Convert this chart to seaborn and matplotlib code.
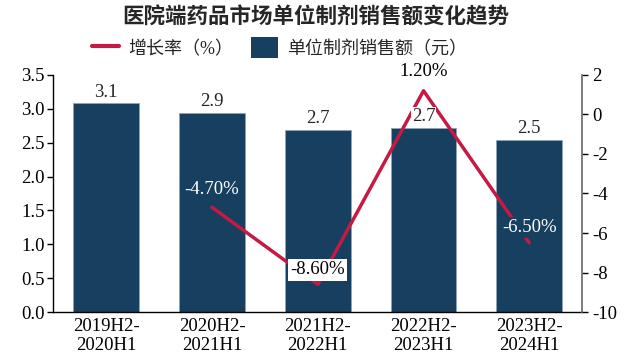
import pandas as pd
import matplotlib.pyplot as plt
import seaborn as sns
from matplotlib.lines import Line2D
from matplotlib.patches import Patch

sns.set_theme(style="white")
plt.rcParams['font.family'] = ['Liberation Serif', 'Noto Sans CJK SC']
plt.rcParams['axes.unicode_minus'] = False

# 数据
periods = ['2019H2-\n2020H1', '2020H2-\n2021H1', '2021H2-\n2022H1',
           '2022H2-\n2023H1', '2023H2-\n2024H1']
sales = [3.08, 2.94, 2.69, 2.72, 2.54]
sales_labels = ['3.1', '2.9', '2.7', '2.7', '2.5']
growth_idx = [1, 2, 3, 4]
growth = [-4.7, -8.6, 1.2, -6.5]
growth_labels = ['-4.70%', '-8.60%', '1.20%', '-6.50%']

bar_color = '#173f5f'
line_color = '#c41a44'
fs = 13.5

df = pd.DataFrame({'期间': periods, '销售额': sales})
df_g = pd.DataFrame({'x': growth_idx, '增长率': growth})

fig, ax = plt.subplots(figsize=(6.28, 3.62), dpi=100)
fig.subplots_adjust(left=0.085, right=0.927, top=0.793, bottom=0.138)

sns.barplot(data=df, x='期间', y='销售额', color=bar_color, width=0.62,
            saturation=1, edgecolor='#8fa3b5', linewidth=0.6, ax=ax)
ax.set_ylim(0, 3.5)
ax.set_yticks([0, 0.5, 1.0, 1.5, 2.0, 2.5, 3.0, 3.5])
ax.set_yticklabels([f'{v:.1f}' for v in ax.get_yticks()])
ax.set_xlim(-0.5, 4.5)
ax.set_xlabel('')
ax.set_ylabel('')
ax.tick_params(axis='both', labelsize=fs, colors='black')
ax.tick_params(axis='y', length=4, width=1, direction='out', left=True, pad=2)
ax.tick_params(axis='x', length=0, pad=4)
for lbl in ax.get_xticklabels():
    lbl.set_linespacing(1.2)
ax.spines['top'].set_visible(False)
ax.spines['right'].set_visible(False)
for s in ['left', 'bottom']:
    ax.spines[s].set_color('black')
    ax.spines[s].set_linewidth(1)

ax2 = ax.twinx()
sns.lineplot(data=df_g, x='x', y='增长率', color=line_color, linewidth=2.5, ax=ax2)
ax2.set_ylim(-10, 2)
ax2.set_yticks(range(-10, 3, 2))
ax2.set_ylabel('')
ax2.set_xlim(-0.5, 4.5)
ax2.tick_params(axis='y', labelsize=fs, length=4, width=1, direction='out',
                right=True, colors='black', pad=3)
ax2.spines['top'].set_visible(False)
ax2.spines['left'].set_visible(False)
ax2.spines['bottom'].set_visible(False)
ax2.spines['right'].set_color('#666666')
ax2.spines['right'].set_linewidth(1.2)

# 柱子标签
for i, (v, t) in enumerate(zip(sales, sales_labels)):
    ax2.annotate(t, xy=(i, v), xycoords=ax.transData, xytext=(0, 2),
                 textcoords='offset points', ha='center', va='bottom', fontsize=fs,
                 zorder=5, bbox=dict(boxstyle='square,pad=0.05', fc='white', ec='none'))

# 增长率标签
label_style = [('white', bar_color), ('black', 'white'), ('black', 'none'), ('white', bar_color)]
offsets = [12.5, 10.5, 13.5, 11]
for x, y, t, (tc, bc), off in zip(growth_idx, growth, growth_labels, label_style, offsets):
    ax2.annotate(t, xy=(x, y), xytext=(0, off), textcoords='offset points',
                 ha='center', va='center', fontsize=fs, color=tc, zorder=5,
                 bbox=dict(boxstyle='square,pad=0.12', fc=bc, ec='none'))

fig.suptitle('医院端药品市场单位制剂销售额变化趋势', x=0.503, y=0.978,
             fontsize=15.5, fontweight='bold')

handles = [Line2D([0], [0], color=line_color, linewidth=3),
           Patch(facecolor=bar_color, edgecolor='none')]
fig.legend(handles, ['增长率（%）', '单位制剂销售额（元）'], loc='center',
           bbox_to_anchor=(0.445, 0.868), ncol=2, frameon=False, fontsize=13,
           handlelength=1.5, handleheight=1.4, handletextpad=0.5, columnspacing=1.0)

plt.savefig('out.png', dpi=100)
